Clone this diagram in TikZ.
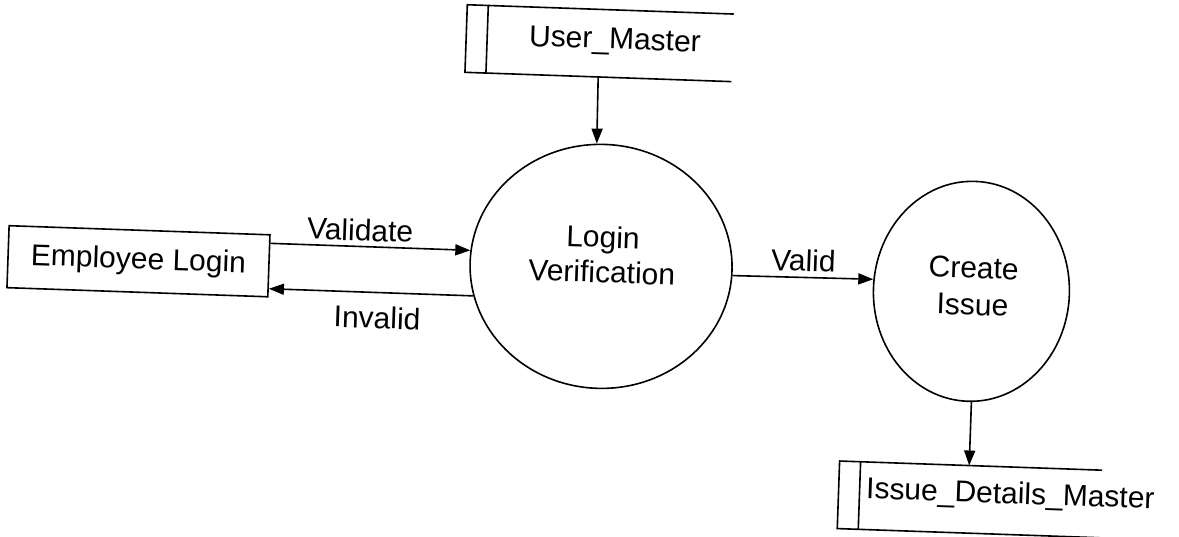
\documentclass[tikz,border=0pt]{standalone}
\usepackage{fontspec}
\setmainfont{Liberation Sans}
\usetikzlibrary{arrows.meta,shapes.geometric,calc}
\begin{document}
\begin{tikzpicture}[x=1pt,y=-1pt,
  line width=1.6pt,
  lbl/.style={font=\fontsize{30}{35}\selectfont, align=center, inner sep=0pt},
  proc/.style={draw, ellipse, inner sep=0pt},
  entity/.style={draw, rectangle, inner sep=0pt, minimum width=261pt, minimum height=62pt, font=\fontsize{30}{35}\selectfont},
  storebox/.style={rectangle, inner sep=0pt, minimum height=66pt},
  arr/.style={-{Triangle[length=15pt,width=11pt]}},
]
\useasboundingbox (0,0) rectangle (1179,537);
\begin{scope}[rotate around={-2:(590,268)}, transform shape]
  % external entity
  \node[entity] (el) at (138.5,277) {Employee Login};
  % processes
  \node[proc, minimum width=262pt, minimum height=244pt] (lv) at (601,266) {};
  \node[lbl] (lvt) at (602,254) {Login\\Verification};
  \node[proc, minimum width=196pt, minimum height=220pt] (ci) at (972,278) {};
  \node[lbl, font=\fontsize{30}{37}\selectfont] (cit) at (973.5,273) {Create\\Issue};
  % data stores
  \node[storebox, minimum width=265pt] (um) at (591.5,43) {};
  \draw (um.north east) -- (um.north west) -- (um.south west) -- (um.south east);
  \draw ([xshift=21pt]um.north west) -- ([xshift=21pt]um.south west);
  \node[lbl] (umt) at (607,41) {User\_Master};
  \node[storebox, minimum width=261pt] (ids) at (977.5,486) {};
  \draw (ids.north east) -- (ids.north west) -- (ids.south west) -- (ids.south east);
  \draw ([xshift=21pt]ids.north west) -- ([xshift=21pt]ids.south west);
  \node[lbl, anchor=west] (idst) at (873,481) {Issue\_Details\_Master};
  % flows
  \draw[arr] (um.south) -- (lv.94.5);
  \draw[arr] ($(el.north east)!(lv.175)!(el.south east)$) -- (lv.175);
  \draw[arr] (lv.195) -- ($(el.north east)!(lv.195)!(el.south east)$);
  \draw[arr] (lv.358) -- (ci.175);
  \draw[arr] (ci.272.6) -- ($(ids.north west)!(ci.272.6)!(ids.north east)$);
  % flow labels
  \node[lbl] (lvalidate) at (359,238) {Validate};
  \node[lbl] (linvalid) at (379,325) {Invalid};
  \node[lbl] (lvalid) at (803,253) {Valid};
\end{scope}
\end{tikzpicture}
\end{document}
